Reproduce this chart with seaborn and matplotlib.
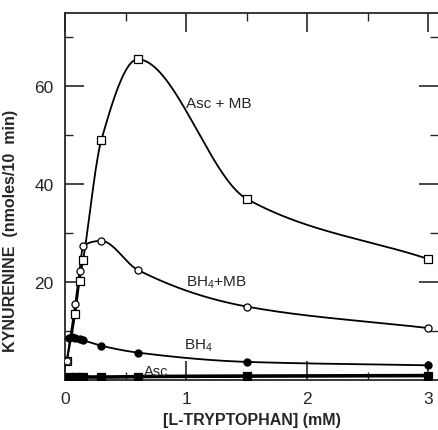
import numpy as np
import pandas as pd
import matplotlib
matplotlib.use("Agg")
import matplotlib.pyplot as plt
import seaborn as sns

# dados (L-triptofano em mM, quinurenina em nmoles/10 min)
asc_mb_x = [0.015, 0.085, 0.12, 0.15, 0.3, 0.6, 1.5, 3.0]
asc_mb_y = [3.9, 13.5, 20.2, 24.5, 49.0, 65.5, 37.0, 24.7]

bh4_mb_x = [0.015, 0.085, 0.12, 0.15, 0.3, 0.6, 1.5, 3.0]
bh4_mb_y = [3.9, 15.5, 22.2, 27.4, 28.4, 22.5, 15.0, 10.6]

bh4_x = [0.03, 0.06, 0.085, 0.12, 0.15, 0.3, 0.6, 1.5, 3.0]
bh4_y = [8.6, 8.7, 8.5, 8.3, 8.1, 7.0, 5.6, 3.7, 3.0]

asc_x = [0.03, 0.085, 0.12, 0.15, 0.3, 0.6, 1.5, 3.0]
asc_y = [0.6, 0.6, 0.6, 0.6, 0.6, 0.7, 0.8, 0.9]

x_ticks = [0, 1, 2, 3]
y_ticks = [20, 40, 60]


def pchip(x, y, n=300):
    # curva suave (monotona por trecho) so para desenhar a linha
    x = np.asarray(x, float)
    y = np.asarray(y, float)
    h = np.diff(x)
    d = np.diff(y) / h
    m = np.zeros_like(y)
    m[0], m[-1] = d[0], d[-1]
    for k in range(1, len(x) - 1):
        if d[k - 1] * d[k] > 0:
            w1 = 2 * h[k] + h[k - 1]
            w2 = h[k] + 2 * h[k - 1]
            m[k] = (w1 + w2) / (w1 / d[k - 1] + w2 / d[k])
    xs = np.linspace(x[0], x[-1], n)
    i = np.clip(np.searchsorted(x, xs) - 1, 0, len(x) - 2)
    t = (xs - x[i]) / h[i]
    h00 = 2 * t**3 - 3 * t**2 + 1
    h10 = t**3 - 2 * t**2 + t
    h01 = -2 * t**3 + 3 * t**2
    h11 = t**3 - t**2
    ys = h00 * y[i] + h10 * h[i] * m[i] + h01 * y[i + 1] + h11 * h[i] * m[i + 1]
    return xs, ys


sns.set_style("ticks")
plt.rcParams["font.family"] = ["Liberation Sans", "DejaVu Sans"]
plt.rcParams["mathtext.fontset"] = "custom"
plt.rcParams["mathtext.rm"] = "Liberation Sans"

fig = plt.figure(figsize=(4.39, 4.31), dpi=100)
ax = fig.add_axes([0.148, 0.116, 0.85, 0.852])

series = [
    (asc_mb_x, asc_mb_y, "s", "white", 1.3),
    (bh4_mb_x, bh4_mb_y, "o", "white", 1.3),
    (bh4_x, bh4_y, "o", "black", 1.3),
    (asc_x, asc_y, "s", "black", 2.6),
]
for xs, ys, mk, fc, lw in series:
    cx, cy = pchip(xs, ys)
    sns.lineplot(x=cx, y=cy, ax=ax, color="black", lw=lw, sort=False)
    df = pd.DataFrame({"x": xs, "y": ys})
    sns.scatterplot(data=df, x="x", y="y", ax=ax, marker=mk, s=26,
                    facecolor=fc, edgecolor="black", linewidth=0.9, zorder=5)

ax.text(1.27, 56.5, "Asc + MB", fontsize=11, ha="center", va="center")
ax.text(1.25, 20, r"BH$_4$+MB", fontsize=11, ha="center", va="center")
ax.text(1.1, 7.2, r"BH$_4$", fontsize=11, ha="center", va="center")
ax.text(0.75, 1.9, "Asc", fontsize=10.5, ha="center", va="center")

ax.set_xlim(0, 3.08)
ax.set_ylim(0, 75)
ax.set_xticks(x_ticks)
ax.set_xticklabels([str(v) for v in x_ticks], fontsize=12.5)
ax.set_xticks(np.arange(0.5, 3.01, 1.0), minor=True)
ax.set_yticks(y_ticks)
ax.set_yticklabels([str(v) for v in y_ticks], fontsize=12.5)
ax.set_yticks([10, 30, 50, 70], minor=True)

ax.spines["right"].set_visible(False)
for s in ["left", "top", "bottom"]:
    ax.spines[s].set_linewidth(1.3)
ax.tick_params(which="major", direction="in", length=14, width=1.2,
               top=True, right=True, pad=8)
ax.tick_params(which="minor", direction="in", length=6, width=1.0,
               top=True, right=True)

ax.set_xlabel("[L-TRYPTOPHAN] (mM)", fontsize=11.5, fontweight="bold", labelpad=4)
ax.set_ylabel("KYNURENINE  (nmoles/10  min)", fontsize=11.5, fontweight="bold")
ax.yaxis.set_label_coords(-0.125, 0.41)

fig.savefig("out.png", dpi=100)
plt.close(fig)
